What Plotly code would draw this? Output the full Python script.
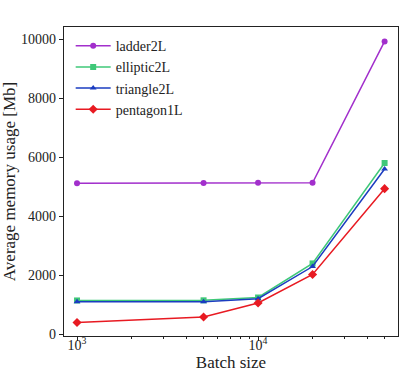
import plotly.graph_objects as go

batch = [1000, 5000, 10000, 20000, 50000]
ladder2L = [5110, 5120, 5130, 5130, 9920]
elliptic2L = [1140, 1145, 1240, 2395, 5800]
triangle2L = [1095, 1100, 1200, 2290, 5595]
pentagon1L = [395, 580, 1055, 2020, 4930]

names = ["ladder2L", "elliptic2L", "triangle2L", "pentagon1L"]
colors = ["#a22fcc", "#3fc878", "#1b3cc0", "#e81a22"]
symbols = ["circle", "square", "triangle-up", "diamond"]
series = [ladder2L, elliptic2L, triangle2L, pentagon1L]
yticks = [0, 2000, 4000, 6000, 8000, 10000]

font_family = "Liberation Serif, DejaVu Serif, serif"

fig = go.Figure()
for n, c, s, y in zip(names, colors, symbols, series):
    fig.add_trace(go.Scatter(
        x=batch, y=y, name=n, mode="lines+markers",
        line=dict(color=c, width=1.5),
        marker=dict(symbol=s, size=6 if s != "diamond" else 7, color=c),
    ))

major = [1000, 10000]
minor_vals = [2000, 3000, 4000, 5000, 6000, 7000, 8000, 9000, 20000, 30000, 40000, 50000]

fig.update_layout(
    width=411, height=374,
    margin=dict(l=64, r=13, t=27, b=38),
    paper_bgcolor="white", plot_bgcolor="white",
    font=dict(family=font_family, size=14, color="#222"),
    showlegend=True,
    legend=dict(x=0.02, y=0.99, xanchor="left", yanchor="top",
                bgcolor="rgba(255,255,255,0)", font=dict(size=14),
                itemwidth=35, tracegroupgap=0),
    xaxis=dict(
        type="log", range=[2.928, 4.773], automargin=False,
        tickvals=major, ticktext=["10<sup>3</sup>", "10<sup>4</sup>"],
        ticks="outside", ticklen=4, tickcolor="#222", ticklabelstandoff=-8,
        showline=True, linecolor="#222", linewidth=1.2, mirror=True,
        showgrid=False, zeroline=False,
        minor=dict(tickvals=minor_vals, ticks="outside", ticklen=2, tickcolor="#222", showgrid=False),
        title=dict(text="Batch size", standoff=0, font=dict(size=17)),
    ),
    yaxis=dict(
        range=[-65, 10410], automargin=False,
        tickvals=yticks, ticktext=[str(v) for v in yticks],
        ticks="outside", ticklen=4, tickcolor="#222",
        showline=True, linecolor="#222", linewidth=1.2, mirror=True,
        showgrid=False, zeroline=False,
        title=dict(text="Average memory usage [Mb]", standoff=4, font=dict(size=17)),
    ),
)

fig.write_html("out.html", config={"displayModeBar": False},
               post_script="document.body.style.margin='0';")
